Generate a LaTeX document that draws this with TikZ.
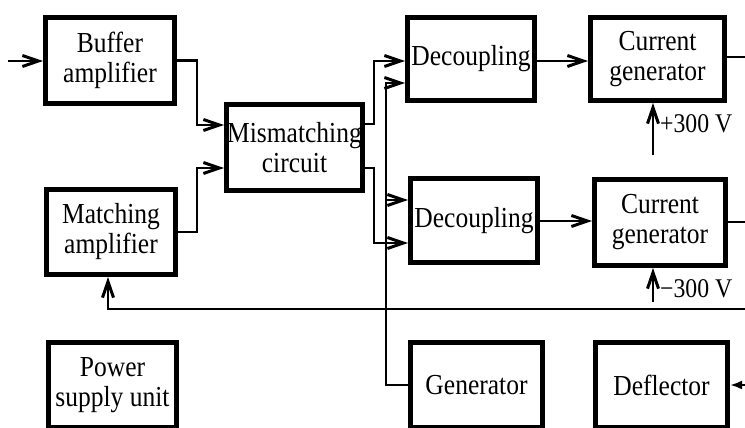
\documentclass[tikz,border=0pt]{standalone}
\usepackage{fontspec}
\setmainfont{Liberation Serif}[FakeStretch=0.88]
\usetikzlibrary{arrows.meta}
\begin{document}
\begin{tikzpicture}[x=1pt,y=-1pt,
  blk/.style={draw, line width=5pt, inner sep=0pt, align=center,
    font=\fontsize{29}{30}\selectfont},
  con/.style={line width=2.3pt, -{Straight Barb[length=16pt,width=11pt,line width=3pt]}},
  ln/.style={line width=2.3pt},
  lbl/.style={anchor=west, inner sep=0pt, font=\fontsize{27}{28}\selectfont}]
\useasboundingbox (0,0) rectangle (745,428);

\node[blk, minimum width=129pt, minimum height=86pt] (buf) at (110,60.5) {Buffer\\amplifier};
\node[blk, minimum width=129pt, minimum height=85pt] (mat) at (111,232) {Matching\\amplifier};
\node[blk, minimum width=136pt, minimum height=86pt] (mis) at (294.5,147.5) {Mismatching\\circuit};
\node[blk, minimum width=127pt, minimum height=83pt] (dec1) at (471,59) {Decoupling};
\node[blk, minimum width=127pt, minimum height=84pt] (dec2) at (474,220.5) {Decoupling};
\node[blk, minimum width=134pt, minimum height=83pt] (cg1) at (657.5,59) {Current\\generator};
\node[blk, minimum width=131pt, minimum height=86pt] (cg2) at (660,222.5) {Current\\generator};
\node[blk, minimum width=128pt, minimum height=85pt] (psu) at (112.5,385) {Power\\supply unit};
\node[blk, minimum width=132pt, minimum height=85pt] (gen) at (476.5,385) {Generator};
\node[blk, minimum width=132pt, minimum height=85pt] (defl) at (661.5,385) {Deflector};

\coordinate (in) at (8,61);
\draw[con] (in) -- (buf.west |- in);
\draw[con] (buf.east) -- (197,60.5) |- (mis.west |- 0,125);
\draw[con] (mat.east) -- (197,232) |- (mis.west |- 0,168);
\draw[con] (mis.east |- 0,124) -- (374,124) |- (dec1.west |- 0,61);
\draw[con] (mis.east |- 0,168) -- (374,168) |- (dec2.west |- 0,243);
\draw[con] (gen.west) -- (386,385) |- (dec1.west |- 0,83);
\draw[con] (386,200) -- (dec2.west |- 0,200);
\draw[con] (dec1.east |- 0,61) -- (cg1.west |- 0,61);
\draw[con] (dec2.east |- 0,221) -- (cg2.west |- 0,221);
\coordinate (o1) at (745,57);
\draw[ln] (cg1.east |- o1) -- (o1);
\coordinate (o2) at (745,222);
\draw[ln] (cg2.east |- o2) -- (o2);
\coordinate (p300) at (653,155);
\draw[con] (p300) -- (cg1.south -| p300);
\node[lbl] (lp) at (660,124) {+300 V};
\coordinate (m300) at (653,302);
\draw[con] (m300) -- (cg2.south -| m300);
\node[lbl] (lm) at (660,289) {−300 V};
\coordinate (fb) at (745,309);
\draw[con] (fb) -- (108,309) -- (mat.south -| 108,0);
\coordinate (dfin) at (745,385);
\draw[line width=2.3pt, -{Latex[length=12pt,width=9pt]}] (dfin) -- (defl.east);
\end{tikzpicture}
\end{document}
